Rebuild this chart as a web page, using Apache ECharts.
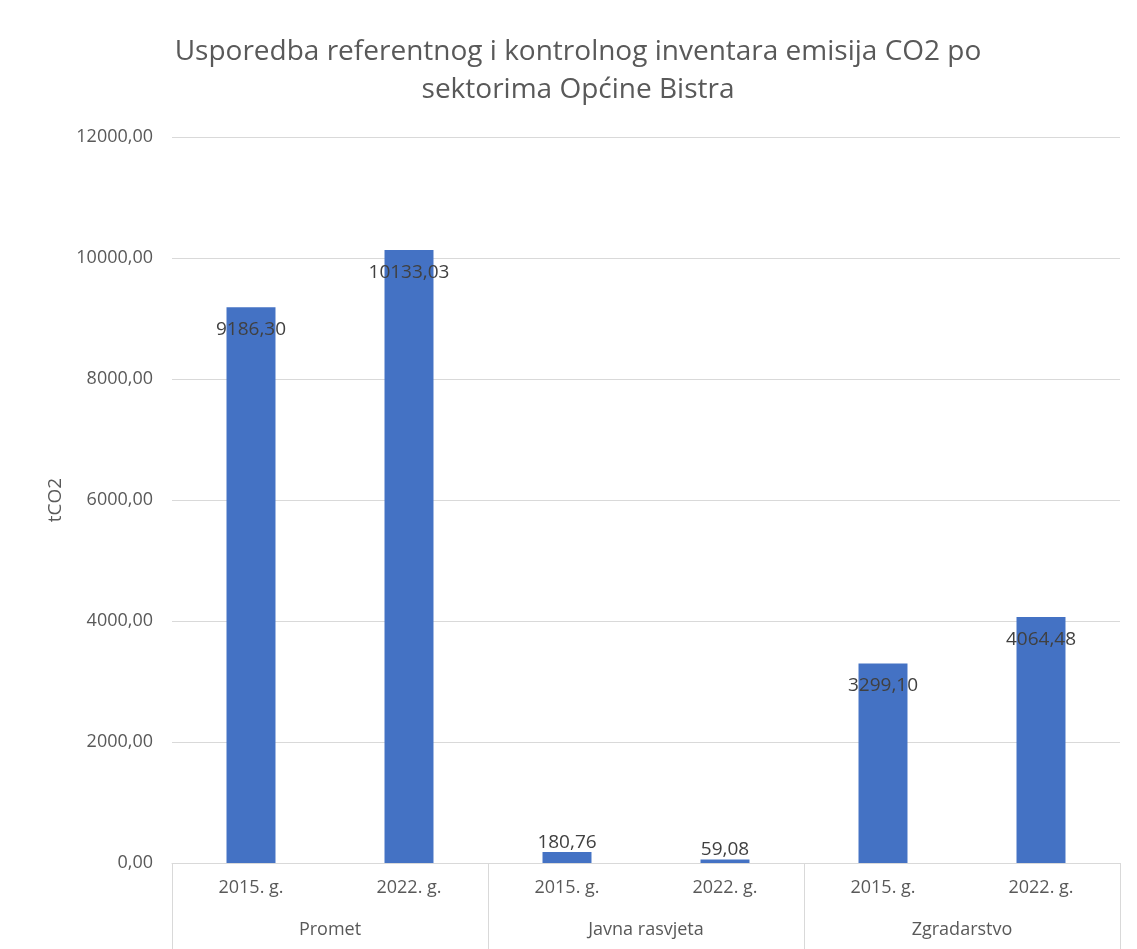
<!DOCTYPE html>
<html>
<head>
<meta charset="utf-8">
<title>Usporedba emisija CO2</title>
<script src="https://cdn.jsdelivr.net/npm/echarts@6/dist/echarts.min.js"></script>
<style>
  html, body { margin: 0; padding: 0; background: #fff; }
  #chart { width: 1137px; height: 949px; }
</style>
</head>
<body>
<div id="chart"></div>
<script>
// Chart data
const years = ['2015. g.', '2022. g.', '2015. g.', '2022. g.', '2015. g.', '2022. g.'];
const sectors = ['Promet', 'Javna rasvjeta', 'Zgradarstvo'];
const emissions = [9186.30, 10133.03, 180.76, 59.08, 3299.10, 4064.48];
const yTicks = [0, 2000, 4000, 6000, 8000, 10000, 12000];

const textColor = '#595959';
const lineColor = '#d9d9d9';
const fontFamily = 'Open Sans, Noto Sans, sans-serif';

// Excel-style number: comma decimal, two places
function fmt(v) {
    return Number(v).toFixed(2).replace('.', ',');
}

const chartDom = document.getElementById('chart');
const myChart = echarts.init(chartDom, null, { renderer: 'canvas' });

// small bars get their label above the bar, like Excel does when it doesn't fit
const barData = emissions.map(function (v) {
    if (v < 1000) {
        return { value: v, label: { position: 'top', distance: 0 } };
    }
    return v;
});

const option = {
    animation: false,
    backgroundColor: '#fff',
    title: {
        text: 'Usporedba referentnog i kontrolnog inventara emisija CO2 po\nsektorima Općine Bistra',
        left: 573,
        top: 28,
        textAlign: 'center',
        textStyle: {
            color: textColor,
            fontFamily: 'Open Sans, sans-serif',
            fontWeight: 'normal',
            fontSize: 28,
            lineHeight: 38
        }
    },
    grid: {
        left: 172,
        right: 17,
        top: 137,
        bottom: 86,
        containLabel: false
    },
    xAxis: [
        {
            type: 'category',
            data: years,
            position: 'bottom',
            axisLine: { show: true, lineStyle: { color: lineColor, width: 1 } },
            axisTick: { show: false },
            axisLabel: {
                color: textColor,
                fontFamily: fontFamily,
                fontSize: 18,
                margin: 16,
                interval: 0
            }
        },
        {
            type: 'category',
            data: sectors,
            position: 'bottom',
            axisLine: { show: false },
            axisTick: {
                show: true,
                length: 86,
                lineStyle: { color: lineColor, width: 1 }
            },
            axisLabel: {
                color: textColor,
                fontFamily: fontFamily,
                fontSize: 18,
                margin: 58,
                interval: 0
            }
        }
    ],
    yAxis: {
        type: 'value',
        min: yTicks[0],
        max: yTicks[yTicks.length - 1],
        interval: 2000,
        name: 'tCO2',
        nameLocation: 'middle',
        nameGap: 102,
        nameRotate: 90,
        nameTextStyle: {
            color: textColor,
            fontFamily: fontFamily,
            fontSize: 19
        },
        axisLine: { show: false },
        axisTick: { show: false },
        axisLabel: {
            color: textColor,
            fontFamily: fontFamily,
            fontSize: 18,
            margin: 19,
            formatter: function (v) { return fmt(v); }
        },
        splitLine: { show: true, lineStyle: { color: lineColor, width: 1 } }
    },
    series: [
        {
            name: 'tCO2',
            type: 'bar',
            xAxisIndex: 0,
            barWidth: '31%',
            itemStyle: { color: '#4472c4' },
            label: {
                show: true,
                position: 'insideTop',
                distance: 13,
                color: '#404040',
                fontFamily: fontFamily,
                fontSize: 19,
                formatter: function (p) { return fmt(p.value); }
            },
            data: barData
        }
    ]
};

myChart.setOption(option);

window.addEventListener('resize', () => {
    myChart.resize();
});
</script>
</body>
</html>
